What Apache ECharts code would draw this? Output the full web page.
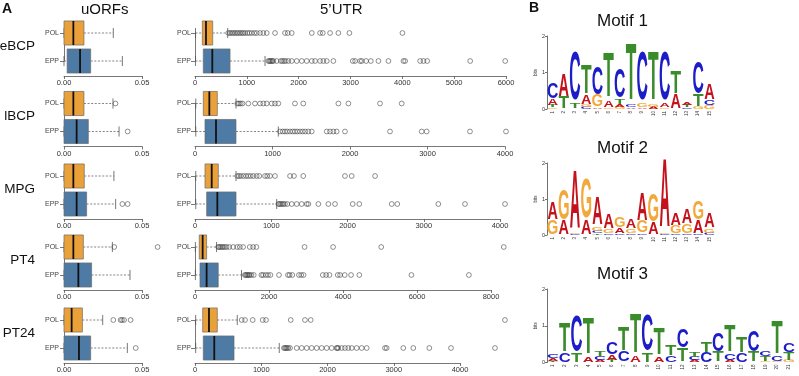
<!DOCTYPE html>
<html><head><meta charset="utf-8">
<script src="https://cdn.jsdelivr.net/npm/echarts@6/dist/echarts.min.js"></script>
<style>html,body{margin:0;padding:0;background:#fff}#c{width:799px;height:376px}</style>
</head><body><div id="c"></div>
<script>
// ---------------- data ----------------
const rowNames = ['eBCP', 'lBCP', 'MPG', 'PT4', 'PT24'];
const groupNames = ['POL', 'EPP'];
const uorfAxisMax = 0.05;
const utrAxisMax = [6000, 4000, 4000, 8000, 4000];
const utrAxisStep = [1000, 1000, 1000, 2000, 1000];

// [lower whisker, Q1, median, Q3, upper whisker]
const uorfPOL = [
  [0, 0, 0.0060, 0.0128, 0.0316],
  [0, 0, 0.0060, 0.0128, 0.0314],
  [0, 0, 0.0060, 0.0130, 0.0320],
  [0, 0, 0.0060, 0.0124, 0.0310],
  [0, 0, 0.0049, 0.0118, 0.0248]];
const uorfEPP = [
  [0, 0.0020, 0.0103, 0.0171, 0.0374],
  [0, 0, 0.0081, 0.0156, 0.0353],
  [0, 0, 0.0081, 0.0145, 0.0331],
  [0, 0, 0.0092, 0.0177, 0.0423],
  [0, 0, 0.0096, 0.0171, 0.0406]];
const uorfPOLOut = [[], [0.0330], [], [0.0322, 0.0600], [0.0316, 0.0363, 0.0372, 0.0385, 0.0427]];
const uorfEPPOut = [[], [0.0408], [0.0374, 0.0408], [], [0.0460]];

const utrPOL = [
  [10, 141, 212, 342, 631],
  [10, 107, 185, 288, 529],
  [10, 131, 219, 306, 538],
  [10, 115, 207, 314, 583],
  [10, 116, 211, 337, 638]];
const utrEPP = [
  [10, 160, 334, 676, 1351],
  [10, 129, 271, 529, 1075],
  [10, 153, 293, 538, 1071],
  [10, 135, 314, 628, 1257],
  [10, 125, 291, 589, 1272]];
const utrPOLOut = [
  [643, 676, 708, 739, 772, 805, 836, 869, 902, 932, 965, 1010, 1049, 1094, 1145, 1191, 1255, 1319, 1384, 1544, 1737, 1789, 1866, 2253, 2413, 2465, 2606, 2766, 2979, 4002],
  [546, 568, 589, 613, 688, 774, 839, 882, 925, 990, 1032, 1075, 1290, 1397, 1850, 1979, 2387, 2667],
  [555, 577, 600, 634, 669, 699, 730, 765, 809, 843, 918, 948, 984, 1049, 1246, 1298, 1420, 1967, 2055, 2361],
  [627, 654, 691, 727, 762, 807, 853, 923, 1031, 1139, 1211, 1300, 1480, 1570, 1660, 2961, 3732, 5033, 8345],
  [705, 755, 871, 1022, 1072, 1445, 1660, 1746, 4679]];
const utrEPPOut = [
  [1415, 1435, 1454, 1473, 1492, 1512, 1577, 1654, 1686, 1718, 1751, 1801, 1867, 1963, 2060, 2156, 2253, 2317, 2413, 2477, 2542, 2670, 3044, 3089, 3185, 3218, 3301, 3392, 3539, 3732, 4022, 4054, 4344, 4408, 4479, 5309, 5985],
  [1097, 1132, 1161, 1190, 1226, 1261, 1290, 1320, 1355, 1390, 1423, 1462, 1506, 1700, 1742, 1785, 1828, 1935, 2516, 2925, 2989, 3548, 4013],
  [1093, 1106, 1124, 1141, 1159, 1180, 1211, 1268, 1334, 1399, 1465, 1487, 1618, 1749, 1836, 2068, 2155, 2580, 2653, 3191, 3541, 4066],
  [1346, 1373, 1400, 1427, 1454, 1481, 1526, 1588, 1795, 1839, 1911, 1974, 2038, 2270, 2512, 2557, 2630, 2808, 2871, 2934, 3454, 3544, 3634, 3858, 3921, 4046, 4217, 4441, 5849, 7402],
  [1343, 1358, 1374, 1389, 1408, 1434, 1535, 1610, 1686, 1761, 1837, 1912, 1988, 2063, 2138, 2148, 2163, 2214, 2264, 2314, 2365, 2440, 2516, 2592, 2868, 2893, 3144, 3295, 3537, 3864, 4528]];

// sequence logos: per position, letters bottom -> top with heights in bits
const motifTitles = ['Motif 1', 'Motif 2', 'Motif 3'];
const motif1 = [
  [['G', 0.04], ['T', 0.05], ['A', 0.17], ['C', 0.41]],
  [['T', 0.30], ['A', 0.60]],
  [['T', 0.14], ['C', 1.30]],
  [['C', 0.05], ['G', 0.05], ['A', 0.25], ['T', 0.78]],
  [['A', 0.04], ['G', 0.30], ['C', 0.72]],
  [['G', 0.04], ['A', 0.18], ['T', 1.20]],
  [['G', 0.05], ['A', 0.06], ['T', 0.14], ['C', 0.78]],
  [['A', 0.04], ['C', 0.08], ['T', 1.50]],
  [['A', 0.04], ['G', 0.10], ['C', 1.28]],
  [['A', 0.05], ['G', 0.08], ['T', 1.30]],
  [['G', 0.04], ['A', 0.10], ['C', 1.28]],
  [['A', 0.37], ['T', 0.58]],
  [['C', 0.04], ['T', 0.05], ['A', 0.07]],
  [['G', 0.05], ['T', 0.30], ['C', 0.85]],
  [['G', 0.10], ['C', 0.12], ['A', 0.41]]];
const motif2 = [
  [['G', 0.40], ['A', 0.46]],
  [['A', 0.37], ['G', 0.80]],
  [['C', 0.03], ['G', 0.03], ['A', 1.58]],
  [['A', 0.40], ['G', 1.05]],
  [['T', 0.04], ['C', 0.06], ['G', 0.12], ['A', 0.73]],
  [['C', 0.04], ['G', 0.12], ['A', 0.40]],
  [['C', 0.04], ['A', 0.14], ['G', 0.28]],
  [['C', 0.04], ['G', 0.12], ['A', 0.26]],
  [['C', 0.04], ['G', 0.30], ['A', 0.75]],
  [['A', 0.30], ['G', 0.73]],
  [['C', 0.03], ['G', 0.03], ['A', 1.85]],
  [['C', 0.03], ['G', 0.22], ['A', 0.30]],
  [['C', 0.03], ['G', 0.25], ['A', 0.40]],
  [['C', 0.03], ['A', 0.35], ['G', 0.50]],
  [['C', 0.05], ['G', 0.12], ['A', 0.40]]];
const motif3 = [
  [['T', 0.04], ['A', 0.06], ['C', 0.10]],
  [['C', 0.23], ['T', 0.75]],
  [['T', 0.23], ['C', 0.93]],
  [['A', 0.15], ['T', 0.94]],
  [['A', 0.05], ['C', 0.10], ['T', 0.15]],
  [['T', 0.05], ['A', 0.15], ['C', 0.32]],
  [['C', 0.27], ['T', 0.64]],
  [['A', 0.18], ['T', 1.03]],
  [['T', 0.23], ['C', 0.95]],
  [['A', 0.15], ['T', 0.68]],
  [['C', 0.18], ['T', 0.27]],
  [['T', 0.36], ['C', 0.50]],
  [['A', 0.05], ['C', 0.10], ['T', 0.12]],
  [['C', 0.26], ['T', 0.28]],
  [['T', 0.27], ['C', 0.50]],
  [['A', 0.05], ['C', 0.18], ['T', 0.68]],
  [['C', 0.23], ['T', 0.41]],
  [['T', 0.27], ['C', 0.55]],
  [['G', 0.04], ['T', 0.13], ['C', 0.15]],
  [['G', 0.04], ['C', 0.14], ['T', 0.86]],
  [['G', 0.05], ['T', 0.20], ['C', 0.23]]];

// ---------------- styles / layout ----------------
const FONT = '"Liberation Sans", Arial, Helvetica, sans-serif';
const ORANGE = '#EBA13A', BLUE = '#4E7BA5';
const LETTER_COLORS = { A: '#C4121C', C: '#1C1CC8', G: '#F2A93B', T: '#3A8C2A' };
const LETTER_W = { A: 0.72, C: 0.66, G: 0.70, T: 0.60 };
const LETTERS = ['A', 'C', 'G', 'T'];
const CAP = 0.69, MID = 0.3467, LS = 40;

const rowTop = [33, 103.5, 176, 247, 320];
const rowGap = 28;
const utrWidth = [311, 310, 305, 296, 265];
const logoTop = [36, 163, 289];
const logoH = [73, 72, 73.5];
const logoStep = [11.2, 11.2, 11.8];

function renderBox(params, api) {
  const cat = api.value(0);
  const lo = api.coord([api.value(1), cat]);
  const q1 = api.coord([api.value(2), cat]);
  const md = api.coord([api.value(3), cat]);
  const q3 = api.coord([api.value(4), cat]);
  const hi = api.coord([api.value(5), cat]);
  const step = Math.abs(api.coord([0, 1])[1] - api.coord([0, 0])[1]);
  const h = step * 0.43, cap = h * 0.42, y = lo[1];
  const dash = { stroke: '#666', lineWidth: 0.8, lineDash: [2, 1.6] };
  const solid = { stroke: '#555', lineWidth: 0.8 };
  return { type: 'group', children: [
    { type: 'line', shape: { x1: lo[0], y1: y, x2: q1[0], y2: y }, style: dash },
    { type: 'line', shape: { x1: q3[0], y1: y, x2: hi[0], y2: y }, style: dash },
    { type: 'line', shape: { x1: lo[0], y1: y - cap, x2: lo[0], y2: y + cap }, style: solid },
    { type: 'line', shape: { x1: hi[0], y1: y - cap, x2: hi[0], y2: y + cap }, style: solid },
    { type: 'rect', shape: { x: q1[0], y: y - h, width: q3[0] - q1[0], height: 2 * h },
      style: { fill: cat === 0 ? ORANGE : BLUE, stroke: '#6b6b6b', lineWidth: 0.7 } },
    { type: 'line', shape: { x1: md[0], y1: y - h, x2: md[0], y2: y + h }, style: { stroke: '#111', lineWidth: 1.8 } }
  ] };
}

function renderLetter(params, api) {
  const p = api.value(0), y0 = api.value(1), y1 = api.value(2);
  const L = LETTERS[api.value(3)];
  const b = api.coord([p, y0]), t = api.coord([p, y1]);
  const w = api.size([1, 0])[0] * 0.93;
  const h = Math.max(b[1] - t[1], 0.3);
  return { type: 'text', x: b[0], y: b[1], scaleX: w / (LETTER_W[L] * LS), scaleY: h / (CAP * LS),
    style: { text: L, x: 0, y: -MID * LS, font: 'bold ' + LS + 'px ' + FONT, fill: LETTER_COLORS[L],
      align: 'center', verticalAlign: 'middle' } };
}

const grid = [], xAxis = [], yAxis = [], series = [], graphic = [];
const axisCol = '#555';

function addBoxPanel(r, left, width, max, step, isUtr, pol, epp, polOut, eppOut) {
  const gi = grid.length;
  grid.push({ left: left, top: rowTop[r], width: width, height: rowGap, outerBoundsMode: 'none', containLabel: false });
  xAxis.push({ gridIndex: gi, type: 'value', min: 0, max: max, interval: step, offset: 15,
    axisLine: { show: true, lineStyle: { color: axisCol, width: 0.8 } },
    axisTick: { show: true, length: 3, lineStyle: { color: axisCol, width: 0.8 } },
    splitLine: { show: false },
    axisLabel: { fontFamily: FONT, fontSize: 7.5, color: '#333', margin: 3,
      formatter: isUtr ? (v => String(v)) : (v => v.toFixed(2)), showMinLabel: true, showMaxLabel: true } });
  yAxis.push({ gridIndex: gi, type: 'category', data: groupNames, inverse: true, boundaryGap: false,
    offset: isUtr ? 2 : 3,
    axisLine: { show: true, lineStyle: { color: axisCol, width: 0.8 } },
    axisTick: { show: true, length: 4, lineStyle: { color: axisCol, width: 0.8 } },
    axisLabel: { fontFamily: FONT, fontSize: 7, color: '#444', margin: 2 },
    splitLine: { show: false } });
  series.push({ type: 'custom', xAxisIndex: gi, yAxisIndex: gi, clip: false, silent: true,
    renderItem: renderBox, encode: { x: [1, 2, 3, 4, 5], y: 0 },
    data: [[0].concat(pol), [1].concat(epp)] });
  const pts = polOut.map(v => [v, 0]).concat(eppOut.map(v => [v, 1]));
  series.push({ type: 'scatter', xAxisIndex: gi, yAxisIndex: gi, clip: false, silent: true,
    symbol: 'circle', symbolSize: 4.8, z: 5,
    itemStyle: { color: 'rgba(255,255,255,0)', borderColor: '#3a3a3a', borderWidth: 0.7 }, data: pts });
}

for (let r = 0; r < rowNames.length; r++) {
  addBoxPanel(r, 64, 78, uorfAxisMax, uorfAxisMax, false, uorfPOL[r], uorfEPP[r], uorfPOLOut[r], uorfEPPOut[r]);
  addBoxPanel(r, 195, utrWidth[r], utrAxisMax[r], utrAxisStep[r], true, utrPOL[r], utrEPP[r], utrPOLOut[r], utrEPPOut[r]);
  graphic.push({ type: 'text', right: 799 - 35, top: rowTop[r] + rowGap / 2 - 8,
    style: { text: rowNames[r], font: '13.5px ' + FONT, fill: '#111' } });
}

[motif1, motif2, motif3].forEach((motif, m) => {
  const gi = grid.length;
  grid.push({ left: 547, top: logoTop[m], width: logoStep[m] * motif.length, height: logoH[m], outerBoundsMode: 'none', containLabel: false });
  xAxis.push({ gridIndex: gi, type: 'category', data: motif.map((_, i) => String(i + 1)), boundaryGap: true,
    axisLine: { show: false }, axisTick: { show: false },
    axisLabel: { fontFamily: FONT, fontSize: 4.5, color: '#333', rotate: 90, margin: 2, interval: 0 } });
  yAxis.push({ gridIndex: gi, type: 'value', min: 0, max: 2, interval: 1, name: 'bits', nameLocation: 'middle',
    nameGap: 8, nameRotate: 90, nameTextStyle: { fontFamily: FONT, fontSize: 4.5, color: '#333' },
    axisLine: { show: true, lineStyle: { color: '#333', width: 0.7 } },
    axisTick: { show: true, length: 2, lineStyle: { color: '#333', width: 0.7 } },
    axisLabel: { fontFamily: FONT, fontSize: 5.5, color: '#333', margin: 2 }, splitLine: { show: false } });
  const data = [];
  motif.forEach((stack, i) => {
    let acc = 0;
    stack.forEach(([L, hgt]) => { data.push([i, acc, acc + hgt, LETTERS.indexOf(L)]); acc += hgt; });
  });
  series.push({ type: 'custom', xAxisIndex: gi, yAxisIndex: gi, clip: false, silent: true,
    renderItem: renderLetter, encode: { x: 0, y: [1, 2] }, data: data });
  graphic.push({ type: 'text', left: 597, top: logoTop[m] - 23,
    style: { text: motifTitles[m], font: '17px ' + FONT, fill: '#111' } });
});

graphic.push({ type: 'text', left: 2, top: 2, style: { text: 'A', font: 'bold 14px ' + FONT, fill: '#111' } });
graphic.push({ type: 'text', left: 529, top: 1, style: { text: 'B', font: 'bold 14px ' + FONT, fill: '#111' } });
graphic.push({ type: 'text', left: 81, top: 2, style: { text: 'uORFs', font: '15px ' + FONT, fill: '#111' } });
graphic.push({ type: 'text', left: 320, top: 2, style: { text: '5\u2019UTR', font: '15px ' + FONT, fill: '#111' } });

const chart = echarts.init(document.getElementById('c'), null, { renderer: 'canvas' });
chart.setOption({ animation: false, backgroundColor: '#fff', grid, xAxis, yAxis, series, graphic });
</script></body></html>
